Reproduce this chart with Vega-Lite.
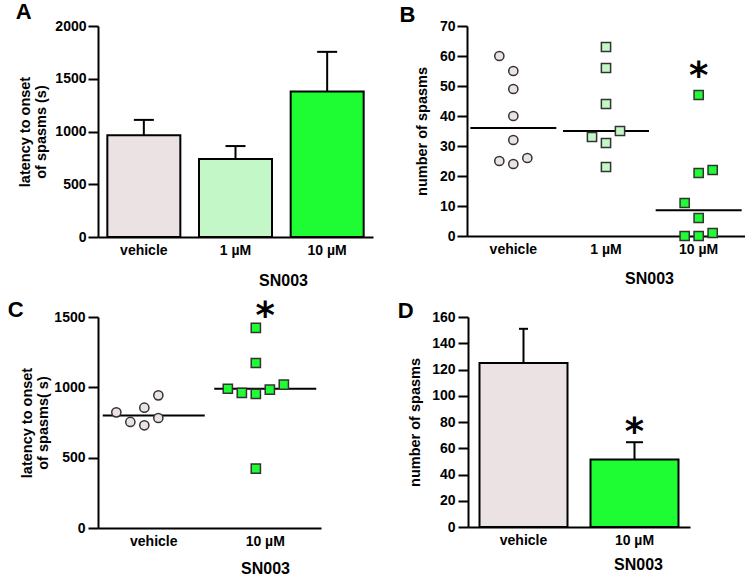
{
  "$schema": "https://vega.github.io/schema/vega-lite/v6.json",
  "padding": {"left": 7, "top": 1, "right": 0, "bottom": 0},
  "background": "#ffffff",
  "config": {"view": {"stroke": null}, "axis": {"labelOverlap": false, "labelSeparation": 0}},
  "spacing": 9,
  "vconcat": [
    {
      "spacing": 26,
      "hconcat": [
        {
          "title": {"text": "A", "dx": -2, "dy": 5, "offset": 0, "fontSize": 22, "font": "Liberation Sans", "fontWeight": "bold", "anchor": "start", "color": "#000000", "frame": "bounds"},
          "width": 275, "height": 211,
          "encoding": {
            "x": {"field": "group", "type": "nominal", "sort": ["vehicle", "1 µM", "10 µM"],
                  "scale": {"type": "band", "domain": ["vehicle", "1 µM", "10 µM"], "paddingInner": 0.2, "paddingOuter": 0.1},
                  "axis": {"title": "SN003", "titleX": 185, "titleY": 48, "titleBaseline": "alphabetic", "titleFontSize": 16, "titleFont": "Liberation Sans", "titleFontWeight": "bold", "titleColor": "#000000",
                           "domainColor": "#000000", "domainWidth": 2, "ticks": false, "labelPadding": 6, "labelAngle": 0, "labelFont": "Liberation Sans", "labelFontSize": 14, "labelFontWeight": "bold", "labelColor": "#000000", "grid": false}},
            "y": {"field": "value", "type": "quantitative", "scale": {"domain": [0, 2000], "nice": false},
                  "axis": {"values": [0, 500, 1000, 1500, 2000], "format": "d", "title": ["latency to onset", "of spasms (s)"], "titlePadding": 6, "titleLineHeight": 16, "labelOverlap": false,
                           "titleFontSize": 14.5, "titleFont": "Liberation Sans", "titleFontWeight": "bold", "titleColor": "#000000",
                           "domainColor": "#000000", "domainWidth": 2, "tickColor": "#000000", "tickWidth": 2, "tickSize": 10, "labelPadding": 2,
                           "labelFont": "Liberation Sans", "labelFontSize": 14, "labelFontWeight": "bold", "labelColor": "#000000", "grid": false}}
          },
          "layer": [
            {
              "data": {"values": [
                {"group": "vehicle", "value": 965},
                {"group": "1 µM", "value": 740},
                {"group": "10 µM", "value": 1380}
              ]},
              "mark": {"type": "bar", "stroke": "#000000", "strokeWidth": 2, "width": 73},
              "encoding": {
                "fill": {"field": "group", "type": "nominal",
                         "scale": {"domain": ["vehicle", "1 µM", "10 µM"], "range": ["#EBE3E3", "#C4F7C8", "#1EFC34"]}, "legend": null}
              }
            },
            {
              "data": {"values": [
                {"group": "vehicle", "value": 965, "upper": 1110},
                {"group": "1 µM", "value": 740, "upper": 862},
                {"group": "10 µM", "value": 1380, "upper": 1755}
              ]},
              "mark": {"type": "rule", "strokeWidth": 2, "color": "#000000"},
              "encoding": {"y2": {"field": "upper"}}
            },
            {
              "data": {"values": [
                {"group": "vehicle", "value": 1110},
                {"group": "1 µM", "value": 862},
                {"group": "10 µM", "value": 1755}
              ]},
              "mark": {"type": "tick", "orient": "horizontal", "size": 20, "thickness": 2, "color": "#000000", "opacity": 1}
            }
          ]
        },
        {
          "title": {"text": "B", "dx": -15, "dy": 7, "offset": -1, "fontSize": 22, "font": "Liberation Sans", "fontWeight": "bold", "anchor": "start", "color": "#000000", "frame": "bounds"},
          "width": 278, "height": 210,
          "encoding": {
            "x": {"field": "group", "type": "nominal", "sort": ["vehicle", "1 µM", "10 µM"],
                  "scale": {"type": "band", "domain": ["vehicle", "1 µM", "10 µM"], "paddingInner": 0, "paddingOuter": 0},
                  "axis": {"title": "SN003", "titleX": 182, "titleY": 47, "titleBaseline": "alphabetic", "titleFontSize": 16, "titleFont": "Liberation Sans", "titleFontWeight": "bold", "titleColor": "#000000",
                           "domainColor": "#000000", "domainWidth": 2, "ticks": false, "labelPadding": 6, "labelAngle": 0, "labelFont": "Liberation Sans", "labelFontSize": 14, "labelFontWeight": "bold", "labelColor": "#000000", "grid": false}},
            "y": {"field": "value", "type": "quantitative", "scale": {"domain": [0, 70], "nice": false},
                  "axis": {"values": [0, 10, 20, 30, 40, 50, 60, 70], "format": "d", "title": "number of spasms", "titlePadding": 10, "labelOverlap": false,
                           "titleFontSize": 14.5, "titleFont": "Liberation Sans", "titleFontWeight": "bold", "titleColor": "#000000",
                           "domainColor": "#000000", "domainWidth": 2, "tickColor": "#000000", "tickWidth": 2, "tickSize": 10, "labelPadding": 2,
                           "labelFont": "Liberation Sans", "labelFontSize": 14, "labelFontWeight": "bold", "labelColor": "#000000", "grid": false}}
          },
          "layer": [
            {
              "data": {"values": [
                {"group": "vehicle", "value": 36},
                {"group": "1 µM", "value": 35},
                {"group": "10 µM", "value": 8.6}
              ]},
              "mark": {"type": "tick", "orient": "horizontal", "size": 86, "thickness": 2, "color": "#000000", "opacity": 1}
            },
            {
              "data": {"values": [
                {"group": "vehicle", "value": 60, "slot": -1},
                {"group": "vehicle", "value": 55, "slot": 0},
                {"group": "vehicle", "value": 49, "slot": 0},
                {"group": "vehicle", "value": 40, "slot": 0},
                {"group": "vehicle", "value": 32, "slot": 0},
                {"group": "vehicle", "value": 25, "slot": -1},
                {"group": "vehicle", "value": 24, "slot": 0},
                {"group": "vehicle", "value": 26, "slot": 1},
                {"group": "1 µM", "value": 63, "slot": 0},
                {"group": "1 µM", "value": 56, "slot": 0},
                {"group": "1 µM", "value": 44, "slot": 0},
                {"group": "1 µM", "value": 33, "slot": -1},
                {"group": "1 µM", "value": 35, "slot": 1},
                {"group": "1 µM", "value": 31, "slot": 0},
                {"group": "1 µM", "value": 23, "slot": 0},
                {"group": "10 µM", "value": 47, "slot": 0},
                {"group": "10 µM", "value": 21, "slot": 0},
                {"group": "10 µM", "value": 22, "slot": 1},
                {"group": "10 µM", "value": 11, "slot": -1},
                {"group": "10 µM", "value": 6, "slot": 0},
                {"group": "10 µM", "value": 0, "slot": -1},
                {"group": "10 µM", "value": 0, "slot": 0},
                {"group": "10 µM", "value": 1, "slot": 1}
              ]},
              "mark": {"type": "point", "filled": true, "stroke": "#333333", "strokeWidth": 1.5, "size": 85, "opacity": 1},
              "encoding": {
                "xOffset": {"field": "slot", "type": "quantitative", "scale": {"domain": [-2, 2], "range": [18.33, 74.33]}},
                "shape": {"field": "group", "type": "nominal", "scale": {"domain": ["vehicle", "1 µM", "10 µM"], "range": ["circle", "square", "square"]}, "legend": null},
                "fill": {"field": "group", "type": "nominal", "scale": {"domain": ["vehicle", "1 µM", "10 µM"], "range": ["#E8E0E0", "#C6F5C8", "#1EF034"]}, "legend": null}
              }
            },
            {
              "data": {"values": [{"group": "10 µM", "value": 53, "label": "*"}]},
              "mark": {"type": "text", "font": "DejaVu Sans", "fontWeight": "bold", "fontSize": 37, "baseline": "middle", "align": "center", "color": "#000000"},
              "encoding": {"text": {"field": "label"}}
            }
          ]
        }
      ]
    },
    {
      "spacing": 76,
      "hconcat": [
        {
          "title": {"text": "C", "dx": -12, "dy": 8, "offset": -16, "fontSize": 22, "font": "Liberation Sans", "fontWeight": "bold", "anchor": "start", "color": "#000000", "frame": "bounds"},
          "width": 223, "height": 211,
          "encoding": {
            "x": {"field": "group", "type": "nominal", "sort": ["vehicle", "10 µM"],
                  "scale": {"type": "band", "domain": ["vehicle", "10 µM"], "paddingInner": 0, "paddingOuter": 0},
                  "axis": {"title": "SN003", "titleX": 167, "titleY": 45, "titleBaseline": "alphabetic", "titleFontSize": 16, "titleFont": "Liberation Sans", "titleFontWeight": "bold", "titleColor": "#000000",
                           "domainColor": "#000000", "domainWidth": 2, "ticks": false, "labelPadding": 6, "labelAngle": 0, "labelFont": "Liberation Sans", "labelFontSize": 14, "labelFontWeight": "bold", "labelColor": "#000000", "grid": false}},
            "y": {"field": "value", "type": "quantitative", "scale": {"domain": [0, 1500], "nice": false},
                  "axis": {"values": [0, 500, 1000, 1500], "format": "d", "title": ["latency to onset", "of spasms( s)"], "titlePadding": 3, "titleLineHeight": 16, "labelOverlap": false,
                           "titleFontSize": 14.5, "titleFont": "Liberation Sans", "titleFontWeight": "bold", "titleColor": "#000000",
                           "domainColor": "#000000", "domainWidth": 2, "tickColor": "#000000", "tickWidth": 2, "tickSize": 10, "labelPadding": 3,
                           "labelFont": "Liberation Sans", "labelFontSize": 14, "labelFontWeight": "bold", "labelColor": "#000000", "grid": false}}
          },
          "layer": [
            {
              "data": {"values": [
                {"group": "vehicle", "value": 800},
                {"group": "10 µM", "value": 990}
              ]},
              "mark": {"type": "tick", "orient": "horizontal", "size": 102, "thickness": 2, "color": "#000000", "opacity": 1}
            },
            {
              "data": {"values": [
                {"group": "vehicle", "value": 822, "slot": -2},
                {"group": "vehicle", "value": 754, "slot": -1},
                {"group": "vehicle", "value": 855, "slot": 0},
                {"group": "vehicle", "value": 730, "slot": 0},
                {"group": "vehicle", "value": 943, "slot": 1},
                {"group": "vehicle", "value": 782, "slot": 1},
                {"group": "10 µM", "value": 1422, "slot": 0},
                {"group": "10 µM", "value": 1173, "slot": 0},
                {"group": "10 µM", "value": 990, "slot": -2},
                {"group": "10 µM", "value": 960, "slot": -1},
                {"group": "10 µM", "value": 953, "slot": 0},
                {"group": "10 µM", "value": 983, "slot": 1},
                {"group": "10 µM", "value": 1019, "slot": 2},
                {"group": "10 µM", "value": 422, "slot": 0}
              ]},
              "mark": {"type": "point", "filled": true, "stroke": "#333333", "strokeWidth": 1.5, "size": 85, "opacity": 1},
              "encoding": {
                "xOffset": {"field": "slot", "type": "quantitative", "scale": {"domain": [-2, 2], "range": [27.75, 83.75]}},
                "shape": {"field": "group", "type": "nominal", "scale": {"domain": ["vehicle", "10 µM"], "range": ["circle", "square"]}, "legend": null},
                "fill": {"field": "group", "type": "nominal", "scale": {"domain": ["vehicle", "10 µM"], "range": ["#E8E0E0", "#1EF034"]}, "legend": null}
              }
            },
            {
              "data": {"values": [{"group": "10 µM", "value": 1502, "label": "*"}]},
              "mark": {"type": "text", "font": "DejaVu Sans", "fontWeight": "bold", "fontSize": 37, "baseline": "middle", "align": "center", "color": "#000000"},
              "encoding": {"text": {"field": "label"}}
            }
          ]
        },
        {
          "title": {"text": "D", "dx": -10, "dy": 5, "offset": -8, "fontSize": 22, "font": "Liberation Sans", "fontWeight": "bold", "anchor": "start", "color": "#000000", "frame": "bounds"},
          "width": 222, "height": 210,
          "encoding": {
            "x": {"field": "group", "type": "nominal", "sort": ["vehicle", "10 µM"],
                  "scale": {"type": "band", "domain": ["vehicle", "10 µM"], "paddingInner": 0.2, "paddingOuter": 0.1},
                  "axis": {"title": "SN003", "titleX": 170, "titleY": 42, "titleBaseline": "alphabetic", "titleFontSize": 16, "titleFont": "Liberation Sans", "titleFontWeight": "bold", "titleColor": "#000000",
                           "domainColor": "#000000", "domainWidth": 2, "ticks": false, "labelPadding": 6, "labelAngle": 0, "labelFont": "Liberation Sans", "labelFontSize": 14, "labelFontWeight": "bold", "labelColor": "#000000", "grid": false}},
            "y": {"field": "value", "type": "quantitative", "scale": {"domain": [0, 160], "nice": false},
                  "axis": {"values": [0, 20, 40, 60, 80, 100, 120, 140, 160], "format": "d", "title": "number of spasms", "titlePadding": 9, "labelOverlap": false,
                           "titleFontSize": 14.5, "titleFont": "Liberation Sans", "titleFontWeight": "bold", "titleColor": "#000000",
                           "domainColor": "#000000", "domainWidth": 2, "tickColor": "#000000", "tickWidth": 2, "tickSize": 10, "labelPadding": 3,
                           "labelFont": "Liberation Sans", "labelFontSize": 14, "labelFontWeight": "bold", "labelColor": "#000000", "grid": false}}
          },
          "layer": [
            {
              "data": {"values": [
                {"group": "vehicle", "value": 125},
                {"group": "10 µM", "value": 51.5}
              ]},
              "mark": {"type": "bar", "stroke": "#000000", "strokeWidth": 2, "width": 88},
              "encoding": {
                "fill": {"field": "group", "type": "nominal", "scale": {"domain": ["vehicle", "10 µM"], "range": ["#EBE3E3", "#1EFC34"]}, "legend": null}
              }
            },
            {
              "data": {"values": [
                {"group": "vehicle", "value": 125, "upper": 151},
                {"group": "10 µM", "value": 51.5, "upper": 64.6}
              ]},
              "mark": {"type": "rule", "strokeWidth": 2, "color": "#000000"},
              "encoding": {"y2": {"field": "upper"}}
            },
            {
              "data": {"values": [{"group": "vehicle", "value": 151}]},
              "mark": {"type": "tick", "orient": "horizontal", "size": 9, "thickness": 2, "color": "#000000", "opacity": 1}
            },
            {
              "data": {"values": [{"group": "10 µM", "value": 64.6}]},
              "mark": {"type": "tick", "orient": "horizontal", "size": 17, "thickness": 2, "color": "#000000", "opacity": 1}
            },
            {
              "data": {"values": [{"group": "10 µM", "value": 72, "label": "*"}]},
              "mark": {"type": "text", "font": "DejaVu Sans", "fontWeight": "bold", "fontSize": 37, "baseline": "middle", "align": "center", "color": "#000000"},
              "encoding": {"text": {"field": "label"}}
            }
          ]
        }
      ]
    }
  ]
}
